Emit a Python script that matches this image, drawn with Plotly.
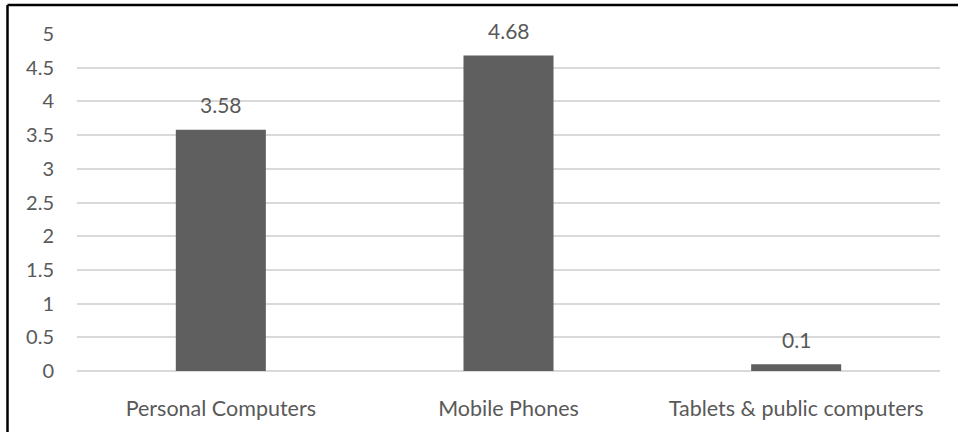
import plotly.graph_objects as go

categories = ["Personal Computers", "Mobile Phones", "Tablets & public computers"]
values = [3.58, 4.68, 0.1]
tick_vals = [0, 0.5, 1, 1.5, 2, 2.5, 3, 3.5, 4, 4.5, 5]
tick_text = ["0", "0.5", "1", "1.5", "2", "2.5", "3", "3.5", "4", "4.5", "5"]

W, H = 958, 432
ML, MR, MT, MB = 77, 18, 34, 61
TEXT = "#595959"
FONT = "Lato"

fig = go.Figure(
    go.Bar(
        x=categories,
        y=values,
        marker=dict(color="#5f5f5f", line=dict(width=0)),
        hoverinfo="skip",
    )
)

# value labels above each bar
for c, v in zip(categories, values):
    fig.add_annotation(
        x=c, y=v, text=f"{v:g}", showarrow=False,
        yanchor="middle", yshift=25,
        font=dict(family=FONT, size=21, color=TEXT),
    )

# frame lines along the top and left edges of the page
pw, ph = W - ML - MR, H - MT - MB
x_left = (7.5 - ML) / pw
y_top = (H - MB - 5) / ph
fig.add_shape(type="line", xref="paper", yref="paper",
              x0=x_left, x1=x_left, y0=-0.3, y1=y_top,
              line=dict(color="black", width=2.5))
fig.add_shape(type="line", xref="paper", yref="paper",
              x0=x_left, x1=1.1, y0=y_top, y1=y_top,
              line=dict(color="black", width=2.5))

fig.update_layout(
    width=W, height=H,
    margin=dict(l=ML, r=MR, t=MT, b=MB),
    paper_bgcolor="white", plot_bgcolor="white",
    bargap=0.687,
    showlegend=False,
    font=dict(family=FONT, size=20, color=TEXT),
)
fig.update_xaxes(
    showgrid=False, showline=False, zeroline=False,
    tickfont=dict(family=FONT, size=21.5, color=TEXT),
    ticks="outside", ticklen=18, tickcolor="rgba(0,0,0,0)",
)
fig.update_yaxes(
    range=[0, 5], tickvals=tick_vals, ticktext=tick_text,
    showgrid=True, gridcolor="#d9d9d9", gridwidth=2,
    zeroline=True, zerolinecolor="#d9d9d9", zerolinewidth=2,
    showline=False,
    tickfont=dict(family=FONT, size=20, color=TEXT),
    ticks="outside", ticklen=18, tickcolor="rgba(0,0,0,0)",
)

fig.write_html("out.html")
